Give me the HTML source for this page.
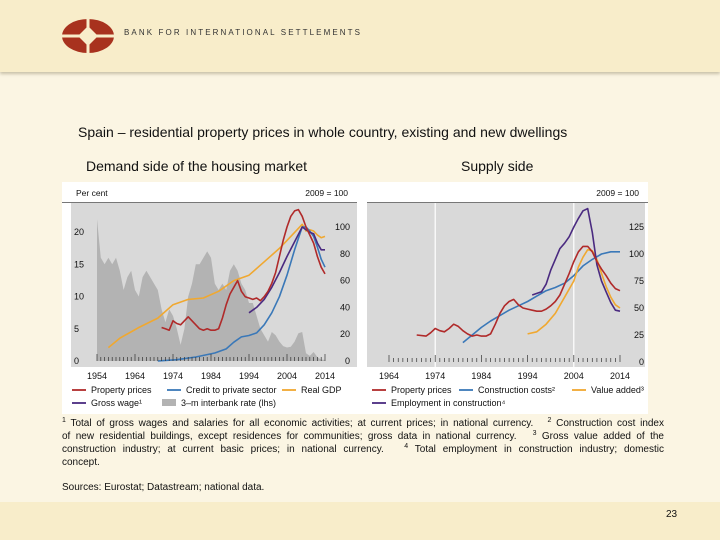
<!DOCTYPE html>
<html><head><meta charset="utf-8"><style>
body{margin:0;width:720px;height:540px;overflow:hidden;background:#fbf5e3;font-family:"Liberation Sans",sans-serif;position:relative}
.abs{position:absolute}
sup{font-size:7px;line-height:0;vertical-align:4px}
.fl{text-align:justify;text-align-last:justify;white-space:nowrap;height:13px}
</style></head><body>
<div class="abs" style="left:0;top:0;width:720px;height:72px;background:#f8edca;box-shadow:0 2px 3px #c8c0a8"></div>
<svg class="abs" style="left:60px;top:18px" width="60" height="36">
<ellipse cx="28" cy="18" rx="26" ry="17" fill="#a8321e"/>
<rect x="26.5" y="0" width="3" height="36" fill="#f8edca"/><rect x="0" y="16.5" width="56" height="3" fill="#f8edca"/>
<polygon points="28,8 38,18 28,28 18,18" fill="#f8edca"/></svg>
<div class="abs" style="left:124px;top:28px;font-size:8px;letter-spacing:2.1px;color:#333">BANK FOR INTERNATIONAL SETTLEMENTS</div>
<div class="abs" style="left:78px;top:124px;font-size:14px;color:#111">Spain – residential property prices in whole country, existing and new dwellings</div>
<div class="abs" style="left:86px;top:158px;font-size:14px;color:#111">Demand side of the housing market</div>
<div class="abs" style="left:461px;top:158px;font-size:14px;color:#111">Supply side</div>
<svg class="abs" style="left:0;top:0" width="720" height="540" id="ch"></svg>
<div class="abs" style="left:62px;top:417px;width:602px;font-size:10px;line-height:13px;color:#111">
<div class="fl"><sup>1</sup> Total of gross wages and salaries for all economic activities; at current prices; in national currency. &nbsp; <sup>2</sup> Construction cost index</div>
<div class="fl">of new residential buildings, except residences for communities; gross data in national currency. &nbsp; <sup>3</sup> Gross value added of the</div>
<div class="fl">construction industry; at current basic prices; in national currency. &nbsp; <sup>4</sup> Total employment in construction industry; domestic</div>
<div>concept.</div></div>
<div class="abs" style="left:62px;top:482px;font-size:10px;color:#111">Sources: Eurostat; Datastream; national data.</div>
<div class="abs" style="left:0;top:502px;width:720px;height:38px;background:#f8edca"></div>
<div class="abs" style="left:666px;top:509px;font-size:10px;color:#111">23</div>
<script>
const irYears=[1954,1955,1956,1957,1958,1959,1960,1961,1962,1963,1964,1965,1966,1967,1968,1969,1970,1971,1972,1973,1974,1975,1976,1977,1978,1979,1980,1981,1982,1983,1984,1985,1986,1987,1988,1989,1990,1991,1992,1993,1994,1995,1996,1997,1998,1999,2000,2001,2002,2003,2004,2005,2006,2007,2008,2009,2010,2011,2012,2013,2014];
const irVals=[22,16,15,16,15,16,14,11,13,14,11,10,13,14,13,12,11,8,6,8,7,5,2.5,5,10,12,15,15,16,17,16,12,11,12,11,14,15,14,12,11,9,9,7,5,4,3,4.5,4,3,2.3,2.1,2.2,3,4.3,4.5,1.2,0.8,1.4,0.6,0.2,0.2];
const lpYears=[1971,1972,1973,1974,1975,1976,1977,1978,1979,1980,1981,1982,1983,1984,1985,1986,1987,1988,1989,1990,1991,1992,1993,1994,1995,1996,1997,1998,1999,2000,2001,2002,2003,2004,2005,2006,2007,2008,2009,2010,2011,2012,2013,2014];
const lpVals=[25,24,23,30,28,27,30,33,30,27,24,23,24,23,23,24,32,42,50,55,60,52,48,47,46,47,45,48,52,58,66,78,90,100,108,112,113,108,100,94,88,78,70,65];
const crYears=[1970,1975,1980,1985,1988,1990,1992,1994,1996,1998,2000,2002,2004,2006,2008,2009,2010,2011,2012,2013,2014];
const crVals=[0,1,3,6,9,14,18,19,21,27,36,48,64,83,100,100,97,93,85,76,70];
const gdpYears=[1957,1960,1965,1970,1974,1978,1982,1986,1990,1994,1998,2002,2006,2008,2009,2010,2011,2012,2013,2014];
const gdpVals=[10,17,25,32,42,46,47,52,60,64,74,84,96,102,97,98,97,94,92,93];
const gwYears=[1994,1996,1998,2000,2002,2004,2006,2008,2009,2010,2011,2012,2013,2014];
const gwVals=[36,40,46,55,66,78,89,100,98,96,95,88,83,83];
const rpYears=[1970,1972,1973,1974,1975,1976,1977,1978,1979,1980,1981,1982,1983,1984,1985,1986,1987,1988,1989,1990,1991,1992,1993,1994,1995,1996,1997,1998,1999,2000,2001,2002,2003,2004,2005,2006,2007,2008,2009,2010,2011,2012,2013,2014];
const rpVals=[25,24,27,31,29,28,31,35,33,29,26,24,25,24,24,26,35,45,52,56,58,53,50,49,48,47,47,49,52,56,62,72,82,93,102,107,107,102,93,86,80,73,68,66];
const ccYears=[1980,1982,1984,1986,1988,1990,1992,1994,1996,1998,2000,2002,2004,2006,2008,2010,2012,2014];
const ccVals=[18,25,32,38,43,48,52,56,61,66,69,73,80,89,95,100,102,102];
const vaYears=[1994,1996,1998,2000,2002,2004,2005,2006,2007,2008,2009,2010,2011,2012,2013,2014];
const vaVals=[26,28,35,45,60,75,88,97,104,103,95,82,70,60,53,50];
const emYears=[1995,1997,1998,1999,2000,2001,2002,2003,2004,2005,2006,2007,2008,2009,2010,2011,2012,2013,2014];
const emVals=[62,65,72,85,95,105,110,116,125,133,140,142,120,90,75,65,55,48,47];
const lTicksX=[1954,1964,1974,1984,1994,2004,2014];
const lTicksL=[0,5,10,15,20];
const lTicksR=[0,20,40,60,80,100];
const rTicksX=[1964,1974,1984,1994,2004,2014];
const rTicksR=[0,25,50,75,100,125];

const NS='http://www.w3.org/2000/svg',svg=document.getElementById('ch');
function el(t,a,p){const e=document.createElementNS(NS,t);for(const k in a)e.setAttribute(k,a[k]);(p||svg).appendChild(e);return e;}
function txt(x,y,s,anchor,name,size){const e=el('text',{x:x,y:y,'font-size':size||9,'text-anchor':anchor||'start',fill:'#111','font-family':'Liberation Sans, sans-serif'});e.textContent=s;


return e;}
const bg=el('rect',{x:62,y:182,width:586,height:232,fill:'#fff'});


const lx=y=>97+(y-1954)*3.8, lyL=v=>361-v*6.45, lyR=v=>361-v*1.34;
const rx=y=>389+(y-1964)*4.62, ryR=v=>362-v*1.08;
const g1=el('rect',{x:71,y:203,width:286,height:164,fill:'#d9d9d9'});


const g2=el('rect',{x:367,y:203,width:278,height:164,fill:'#d9d9d9'});


el('line',{x1:62,y1:202.5,x2:357,y2:202.5,stroke:'#777','stroke-width':1});
el('line',{x1:367,y1:202.5,x2:648,y2:202.5,stroke:'#777','stroke-width':1});
[1974,2004].forEach(y=>{const l=el('line',{x1:rx(y),y1:203,x2:rx(y),y2:367,stroke:'#fff','stroke-width':1.2});

});
let d='M'+lx(irYears[0])+','+lyL(0);irYears.forEach((y,i)=>d+=' L'+lx(y)+','+lyL(irVals[i]));d+=' L'+lx(irYears[irYears.length-1])+','+lyL(0)+'Z';
const ar=el('path',{d:d,fill:'#b3b3b3'});


function line(xs,vs,fx,fy,c,name){let p='';xs.forEach((y,i)=>p+=(i?' L':'M')+fx(y).toFixed(1)+','+fy(vs[i]).toFixed(1));const e=el('path',{d:p,fill:'none',stroke:c,'stroke-width':1.6,'stroke-linejoin':'round'});

}
line(gdpYears,gdpVals,lx,lyR,'#f0a830','line-real-gdp');
line(crYears,crVals,lx,lyR,'#3a78b8','line-credit');
line(gwYears,gwVals,lx,lyR,'#4a2a80','line-gross-wage');
line(lpYears,lpVals,lx,lyR,'#b02a2a','line-property-prices-left');
line(ccYears,ccVals,rx,ryR,'#3a78b8','line-construction-costs');
line(vaYears,vaVals,rx,ryR,'#f0a830','line-value-added');
line(emYears,emVals,rx,ryR,'#4a2a80','line-employment');
line(rpYears,rpVals,rx,ryR,'#b02a2a','line-property-prices-right');
for(let y=1954;y<=2014;y++){el('line',{x1:lx(y),y1:361,x2:lx(y),y2:(y%10==4?354:357),stroke:'#333','stroke-width':0.7});}
for(let y=1964;y<=2014;y++){el('line',{x1:rx(y),y1:362,x2:rx(y),y2:(y%10==4?355:358),stroke:'#333','stroke-width':0.7});}
lTicksX.forEach(y=>txt(lx(y),379,String(y),'middle','x-tick-label'));
rTicksX.forEach(y=>txt(rx(y),379,String(y),'middle','x-tick-label'));
lTicksL.forEach(v=>txt(74,lyL(v)+3,String(v),'start','y-tick-label-left'));
lTicksR.forEach(v=>txt(350,lyR(v)+3,String(v),'end','y-tick-label-right'));
rTicksR.forEach(v=>txt(644,ryR(v)+3,String(v),'end','y-tick-label-right'));
txt(76,196,'Per cent','start','left-axis-unit',8.5);
txt(348,196,'2009 = 100','end','right-axis-unit',8.5);
txt(639,196,'2009 = 100','end','right-panel-unit',8.5);
function leg(x,y,c,s,name,area){if(area){el('rect',{x:x,y:y-4,width:14,height:7,fill:'#b3b3b3'});}else el('line',{x1:x,y1:y,x2:x+14,y2:y,stroke:c,'stroke-width':1.8});txt(x+19,y+3,s,'start',name);}
leg(72,390,'#b02a2a','Property prices','legend-property-prices');
leg(167,390,'#3a78b8','Credit to private sector','legend-credit');
leg(282,390,'#f0a830','Real GDP','legend-real-gdp');
leg(72,403,'#4a2a80','Gross wage¹','legend-gross-wage');
leg(162,403,'','3–m interbank rate (lhs)','legend-interbank',true);
leg(372,390,'#b02a2a','Property prices','legend-property-prices-r');
leg(459,390,'#3a78b8','Construction costs²','legend-construction-costs');
leg(572,390,'#f0a830','Value added³','legend-value-added');
leg(372,403,'#4a2a80','Employment in construction⁴','legend-employment');
</script>
</body></html>
